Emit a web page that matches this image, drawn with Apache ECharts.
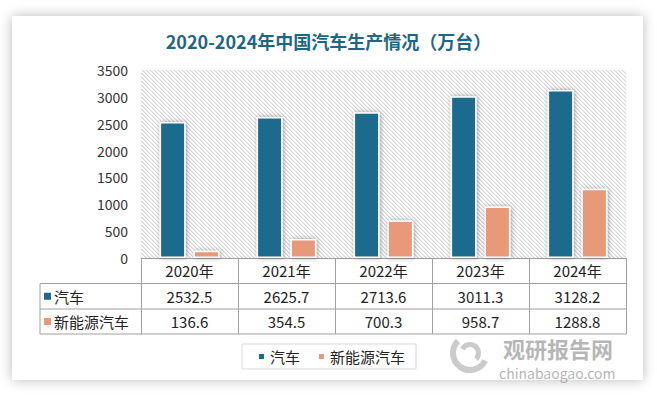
<!DOCTYPE html>
<html><head><meta charset="utf-8">
<script src="https://cdn.jsdelivr.net/npm/echarts@6/dist/echarts.min.js"></script>
<style>
html,body{margin:0;padding:0;background:#fff;}
#wrap{position:relative;width:657px;height:395px;overflow:hidden;}
#card{position:absolute;left:12px;top:16px;width:631px;height:364px;background:#fff;box-shadow:0 0 12px rgba(0,0,0,0.28);}
#c{position:absolute;left:0;top:0;width:657px;height:395px;}
</style>
</head><body><div id="wrap"><div id="card"></div><div id="c"></div></div>
<script>
const chartTitle = '2020-2024年中国汽车生产情况（万台）';
const categories = ['2020年', '2021年', '2022年', '2023年', '2024年'];
const seriesNames = ['汽车', '新能源汽车'];
const carValues = [2532.5, 2625.7, 2713.6, 3011.3, 3128.2];
const nevValues = [136.6, 354.5, 700.3, 958.7, 1288.8];
const yMin = 0, yMax = 3500, yStep = 500;
const watermarkCn = '观研报告网';
const watermarkEn = 'chinabaogao.com';

const BLUE = '#1b6a8d', ORANGE = '#e8997a', LINE = '#a0a0a0';
const FONT = '"Noto Sans CJK SC", "Noto Sans", sans-serif';

function hatch() {
  const n = 8, c = document.createElement('canvas');
  c.width = n; c.height = n;
  const g = c.getContext('2d');
  const img = g.createImageData(n, n);
  for (let y = 0; y < n; y++) for (let x = 0; x < n; x++) {
    const k = (((x - y) % 4) + 4) % 4;
    const v = k === 0 ? 214 : (k === 1 ? 238 : 255);
    const i = (y * n + x) * 4;
    img.data[i] = v; img.data[i + 1] = v; img.data[i + 2] = v; img.data[i + 3] = 255;
  }
  g.putImageData(img, 0, 0);
  return c;
}

const chart = echarts.init(document.getElementById('c'), null, { renderer: 'svg' });
const G = { left: 141, top: 70, width: 485, height: 188 };
const tableBottom = 334, row1 = 283.5, row2 = 309, tableLeft = 40;

const barStyle = (color) => ({
  color: color, borderColor: '#fff', borderWidth: 1.5,
  shadowBlur: 5, shadowColor: 'rgba(0,0,0,0.35)', shadowOffsetX: 1, shadowOffsetY: 0
});

const valueAxis = (offset, values) => ({
  type: 'category', data: categories, position: 'bottom', offset: offset,
  axisLine: { show: false }, axisTick: { show: false },
  axisLabel: { fontSize: 15, lineHeight: 15, color: '#222', fontFamily: FONT, verticalAlign: 'middle', margin: 12.5,
    formatter: (v, i) => values[i].toFixed(1) }
});

chart.setOption({
  animation: false,
  textStyle: { fontFamily: FONT },
  title: {
    text: chartTitle, left: 'center', top: 27,
    textStyle: { fontSize: 18, fontWeight: 'bold', color: '#1f6587', fontFamily: FONT }
  },
  legend: {
    data: seriesNames, left: 242, top: 344, icon: 'rect', itemWidth: 7, itemHeight: 7, itemGap: 17,
    borderColor: '#d9d9d9', borderWidth: 1, padding: [5, 11, 5, 15],
    textStyle: { fontSize: 15, color: '#222', fontFamily: FONT }
  },
  grid: {
    left: G.left, top: G.top, width: G.width, height: G.height, show: true,
    borderWidth: 0, backgroundColor: { image: hatch(), repeat: 'repeat' }
  },
  xAxis: [
    {
      type: 'category', data: categories, position: 'bottom',
      axisLine: { lineStyle: { color: LINE, width: 1 } },
      axisTick: { show: true, length: tableBottom - (G.top + G.height), lineStyle: { color: LINE } },
      axisLabel: { fontSize: 15, lineHeight: 15, color: '#222', fontFamily: FONT, verticalAlign: 'middle', margin: 12.5 }
    },
    valueAxis(row1 - (G.top + G.height), carValues),
    valueAxis(row2 - (G.top + G.height), nevValues)
  ],
  yAxis: {
    type: 'value', min: yMin, max: yMax, interval: yStep,
    axisLine: { show: false }, axisTick: { show: false }, splitLine: { show: false },
    axisLabel: { fontSize: 14, color: '#333', margin: 13, fontFamily: FONT, formatter: (v) => String(v) }
  },
  series: [
    { name: seriesNames[0], type: 'bar', data: carValues, barWidth: 26, barGap: '30%', itemStyle: barStyle(BLUE) },
    { name: seriesNames[1], type: 'bar', data: nevValues, barWidth: 26, barGap: '30%', itemStyle: barStyle(ORANGE) }
  ],
  graphic: [
    { type: 'line', shape: { x1: tableLeft, y1: row1, x2: G.left + G.width, y2: row1 }, style: { stroke: LINE, lineWidth: 1 } },
    { type: 'line', shape: { x1: tableLeft, y1: row2, x2: G.left + G.width, y2: row2 }, style: { stroke: LINE, lineWidth: 1 } },
    { type: 'line', shape: { x1: tableLeft, y1: tableBottom, x2: G.left + G.width, y2: tableBottom }, style: { stroke: LINE, lineWidth: 1 } },
    { type: 'line', shape: { x1: tableLeft, y1: row1, x2: tableLeft, y2: tableBottom }, style: { stroke: LINE, lineWidth: 1 } },
    { type: 'rect', shape: { x: 44, y: (row1 + row2) / 2 - 3.5, width: 7, height: 7 }, style: { fill: BLUE } },
    { type: 'text', x: 54, y: (row1 + row2) / 2, style: { text: seriesNames[0], fill: '#222', verticalAlign: 'middle', font: '15px ' + FONT, lineHeight: 15 } },
    { type: 'rect', shape: { x: 44, y: (row2 + tableBottom) / 2 - 3.5, width: 7, height: 7 }, style: { fill: ORANGE } },
    { type: 'text', x: 54, y: (row2 + tableBottom) / 2, style: { text: seriesNames[1], fill: '#222', verticalAlign: 'middle', font: '15px ' + FONT, lineHeight: 15 } },
    { type: 'arc', shape: { cx: 470, cy: 353, r: 17, startAngle: Math.PI * 0.15, endAngle: Math.PI * 1.25 }, style: { stroke: 'rgba(140,140,140,0.45)', lineWidth: 6, fill: 'none' } },
    { type: 'arc', shape: { cx: 470, cy: 353, r: 8.5, startAngle: Math.PI * 1.15, endAngle: Math.PI * 2.25 }, style: { stroke: 'rgba(140,140,140,0.45)', lineWidth: 5, fill: 'none' } },
    { type: 'text', x: 503, y: 348, style: { text: watermarkCn, fill: 'rgba(110,110,110,0.5)', verticalAlign: 'middle', font: 'bold 22px ' + FONT, lineHeight: 22 } },
    { type: 'text', x: 499, y: 373, style: { text: watermarkEn, fill: 'rgba(130,130,130,0.6)', verticalAlign: 'middle', font: '14px ' + FONT, lineHeight: 14 } }
  ]
});
</script>
</body></html>
